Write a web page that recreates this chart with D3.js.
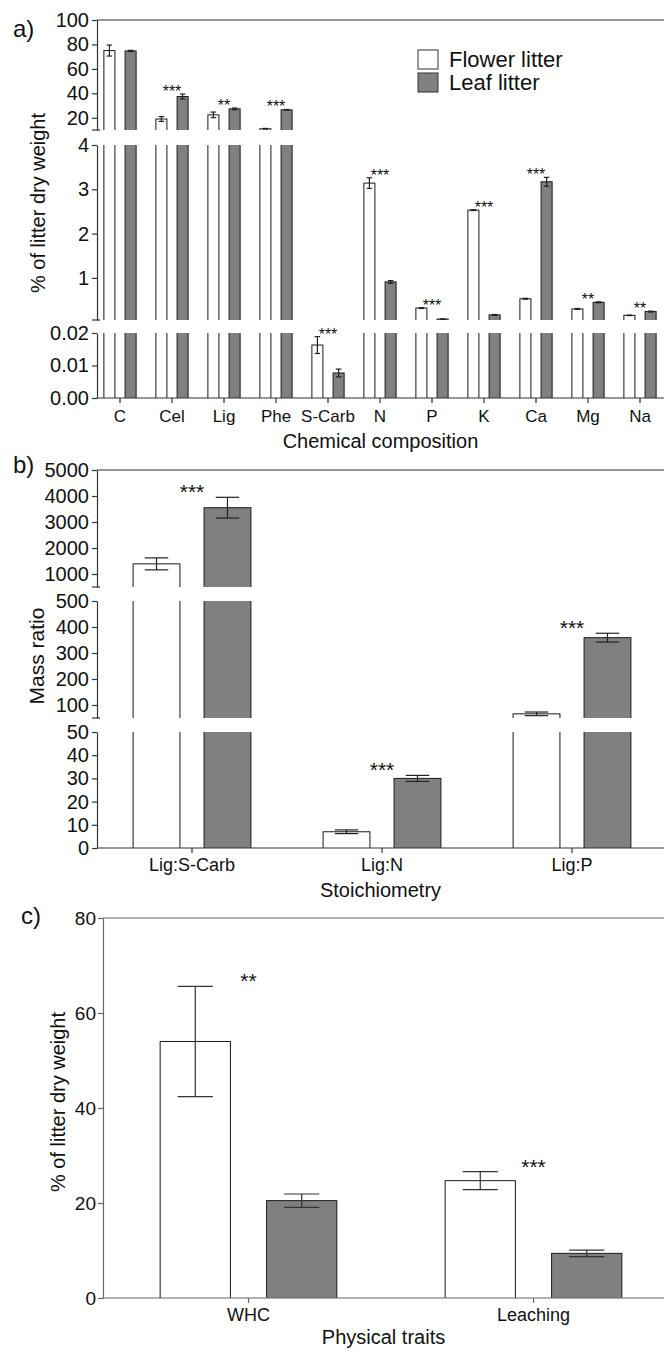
<!DOCTYPE html>
<html>
<head>
<meta charset="utf-8">
<script src="https://cdn.jsdelivr.net/npm/d3@7"></script>
<style>
  body { margin: 0; background: #fff; }
  svg { display: block; font-family: 'Liberation Sans', Arial, sans-serif; }
</style>
</head>
<body>
<svg id="fig" width="664" height="1352"></svg>
<script>
// a) chemical composition (% of litter dry weight)
const chemCats = ['C', 'Cel', 'Lig', 'Phe', 'S-Carb', 'N', 'P', 'K', 'Ca', 'Mg', 'Na'];
const chemFlower = [75, 19, 22.4, 11, 0.0163, 3.14, 0.32, 2.53, 0.53, 0.30, 0.155];
const chemFlowerErr = [4.5, 2, 2.3, 0.3, 0.0026, 0.12, 0.01, 0.01, 0.01, 0.01, 0.005];
const chemLeaf = [74.7, 37.4, 27.3, 26.5, 0.0077, 0.91, 0.07, 0.165, 3.17, 0.45, 0.24];
const chemLeafErr = [0.5, 2, 0.7, 0.3, 0.0012, 0.03, 0.005, 0.01, 0.1, 0.01, 0.01];
const chemSig = ['', '***', '**', '***', '***', '***', '***', '***', '***', '**', '**'];

// b) stoichiometry (mass ratio)
const stoCats = ['Lig:S-Carb', 'Lig:N', 'Lig:P'];
const stoFlower = [1390, 7, 66];
const stoFlowerErr = [230, 0.8, 7];
const stoLeaf = [3550, 30, 359];
const stoLeafErr = [400, 1.3, 17];
const stoSig = ['***', '***', '***'];

// c) physical traits
const physCats = ['WHC', 'Leaching'];
const physFlower = [54, 24.7];
const physFlowerErr = [11.6, 1.9];
const physLeaf = [20.5, 9.4];
const physLeafErr = [1.4, 0.7];
const physSig = ['**', '***'];

const series = ['Flower litter', 'Leaf litter'];
const fills = { 'Flower litter': '#ffffff', 'Leaf litter': '#808080' };
const RIGHT = 664;

const svg = d3.select('#fig');

function drawPanel(p) {
  const g = svg.append('g');
  const x0 = d3.scaleBand().domain(p.cats).range(p.xRange);
  const bw = x0.bandwidth();
  const x1 = d3.scaleBand().domain(series)
    .range([bw * 0.19, bw * 0.81])
    .paddingInner(p.barGap);

  const rows = p.cats.map((c, i) => ({
    cat: c,
    sig: p.sig[i],
    vals: [
      { s: series[0], v: p.flower[i], e: p.flowerErr[i], cat: c },
      { s: series[1], v: p.leaf[i], e: p.leafErr[i], cat: c }
    ]
  }));
  const bars = rows.flatMap(r => r.vals);
  const scales = p.segs.map(s => d3.scaleLinear().domain(s.domain).range(s.range));
  const segOf = v => p.segs.findIndex(s => v >= s.domain[0] && v <= s.domain[1]);

  p.segs.forEach((s, k) => {
    const y = scales[k];
    const id = `clip-${p.id}-${k}`;
    g.append('clipPath').attr('id', id).append('rect')
      .attr('x', 0).attr('width', RIGHT)
      .attr('y', s.range[1]).attr('height', s.range[0] - s.range[1]);

    const layer = g.append('g').attr('clip-path', `url(#${id})`);
    const lo = s.range[0] + 6, hi = s.range[1] - 6;
    const top = d => (d.v > s.domain[1] ? hi : y(d.v));

    layer.selectAll('rect')
      .data(bars.filter(d => d.v > s.domain[0]))
      .join('rect')
      .attr('x', d => x0(d.cat) + x1(d.s))
      .attr('width', x1.bandwidth())
      .attr('y', top)
      .attr('height', d => lo - top(d))
      .attr('fill', d => fills[d.s])
      .attr('stroke', '#1a1a1a')
      .attr('stroke-width', 1);

    // error bars, drawn in the segment holding the mean
    const cap = x1.bandwidth() * 0.25;
    const eb = layer.selectAll('g.err')
      .data(bars.filter(d => segOf(d.v) === k && d.e > 0))
      .join('g').attr('class', 'err')
      .attr('stroke', p.errColor).attr('stroke-width', 1.2);
    const cx = d => x0(d.cat) + x1(d.s) + x1.bandwidth() / 2;
    eb.append('line')
      .attr('x1', cx).attr('x2', cx)
      .attr('y1', d => y(d.v - d.e)).attr('y2', d => y(d.v + d.e));
    eb.append('line')
      .attr('x1', d => cx(d) - cap).attr('x2', d => cx(d) + cap)
      .attr('y1', d => y(d.v + d.e)).attr('y2', d => y(d.v + d.e));
    eb.append('line')
      .attr('x1', d => cx(d) - cap).attr('x2', d => cx(d) + cap)
      .attr('y1', d => y(d.v - d.e)).attr('y2', d => y(d.v - d.e));

    // y axis segment
    const ax = g.append('g')
      .attr('transform', `translate(${p.axisX},0)`)
      .call(d3.axisLeft(y).tickValues(s.ticks).tickFormat(d3.format(s.fmt))
        .tickSize(5).tickPadding(p.tickPad).tickSizeOuter(0));
    ax.selectAll('path, line').attr('stroke', p.axisColor).attr('stroke-width', 1.2);
    ax.selectAll('text').attr('font-size', p.tickFont).attr('fill', '#111')
      .attr('font-family', 'Liberation Sans, Arial, sans-serif');

    // break mark at the foot of the upper segments
    if (k > 0) {
      g.append('line')
        .attr('x1', p.axisX - 5).attr('x2', p.axisX + 3)
        .attr('y1', s.range[0]).attr('y2', s.range[0])
        .attr('stroke', p.axisColor).attr('stroke-width', 1.2);
    }
  });

  // top frame line
  const topSeg = p.segs[p.segs.length - 1];
  g.append('line')
    .attr('x1', p.axisX).attr('x2', RIGHT)
    .attr('y1', topSeg.range[1]).attr('y2', topSeg.range[1])
    .attr('stroke', p.axisColor).attr('stroke-width', 1.2);

  // x axis
  const baseY = p.segs[0].range[0];
  const xa = g.append('g')
    .attr('transform', `translate(0,${baseY})`)
    .call(d3.axisBottom(x0).tickSize(5).tickSizeOuter(0));
  xa.select('.domain').remove();
  xa.selectAll('line').attr('stroke', p.axisColor).attr('stroke-width', 1.2);
  xa.selectAll('text')
    .attr('dy', null).attr('y', p.catOffset)
    .attr('font-size', p.catFont).attr('fill', '#111')
    .attr('font-family', 'Liberation Sans, Arial, sans-serif');
  g.append('line')
    .attr('x1', p.axisX).attr('x2', RIGHT)
    .attr('y1', baseY).attr('y2', baseY)
    .attr('stroke', p.axisColor).attr('stroke-width', 1.2);

  // significance stars
  const pix = v => {
    const k = segOf(v);
    return k >= 0 ? scales[k](v) : scales[scales.length - 1](v);
  };
  g.selectAll('text.sig')
    .data(rows.filter(r => r.sig))
    .join('text').attr('class', 'sig')
    .attr('x', r => x0(r.cat) + bw / 2)
    .attr('y', r => d3.min(r.vals, d => pix(d.v + d.e)) + p.starDrop)
    .attr('text-anchor', 'middle')
    .attr('font-size', p.starFont)
    .attr('fill', '#111')
    .text(r => r.sig);

  // titles
  g.append('text')
    .attr('x', (p.axisX + RIGHT) / 2).attr('y', p.xTitleY)
    .attr('text-anchor', 'middle').attr('font-size', 20).attr('fill', '#111')
    .text(p.xTitle);
  g.append('text')
    .attr('transform', `translate(${p.yTitleX},${p.yTitleY}) rotate(-90)`)
    .attr('text-anchor', 'middle').attr('font-size', p.yTitleFont).attr('fill', '#111')
    .text(p.yTitle);
  g.append('text')
    .attr('x', p.tagX).attr('y', p.tagY)
    .attr('font-size', 24).attr('fill', '#111')
    .text(p.tag);
}

drawPanel({
  id: 'a', tag: 'a)', tagX: 13, tagY: 37,
  cats: chemCats, flower: chemFlower, flowerErr: chemFlowerErr,
  leaf: chemLeaf, leafErr: chemLeafErr, sig: chemSig,
  xRange: [94, 666], barGap: 0.48, axisX: 97,
  segs: [
    { domain: [0, 0.02], range: [398, 333], ticks: [0, 0.01, 0.02], fmt: '.2f' },
    { domain: [0.05, 4], range: [320, 145], ticks: [1, 2, 3, 4], fmt: 'd' },
    { domain: [10, 100], range: [130, 20], ticks: [20, 40, 60, 80, 100], fmt: 'd' }
  ],
  axisColor: '#333', errColor: '#222', tickFont: 20, tickPad: 3,
  catFont: 17, catOffset: 24, starFont: 16, starDrop: 3,
  xTitle: 'Chemical composition', xTitleY: 448,
  yTitle: '% of litter dry weight', yTitleX: 45, yTitleY: 203, yTitleFont: 20
});

drawPanel({
  id: 'b', tag: 'b)', tagX: 13, tagY: 473,
  cats: stoCats, flower: stoFlower, flowerErr: stoFlowerErr,
  leaf: stoLeaf, leafErr: stoLeafErr, sig: stoSig,
  xRange: [97, 667], barGap: 0.34, axisX: 97,
  segs: [
    { domain: [0, 50], range: [848, 732], ticks: [0, 10, 20, 30, 40, 50], fmt: 'd' },
    { domain: [50, 500], range: [718, 601], ticks: [100, 200, 300, 400, 500], fmt: 'd' },
    { domain: [500, 5000], range: [587, 470], ticks: [1000, 2000, 3000, 4000, 5000], fmt: 'd' }
  ],
  axisColor: '#333', errColor: '#222', tickFont: 20, tickPad: 3,
  catFont: 18, catOffset: 23, starFont: 21, starDrop: 2,
  xTitle: 'Stoichiometry', xTitleY: 897,
  yTitle: 'Mass ratio', yTitleX: 44, yTitleY: 656, yTitleFont: 21
});

drawPanel({
  id: 'c', tag: 'c)', tagX: 21, tagY: 924,
  cats: physCats, flower: physFlower, flowerErr: physFlowerErr,
  leaf: physLeaf, leafErr: physLeafErr, sig: physSig,
  xRange: [106, 676], barGap: 0.34, axisX: 103,
  segs: [
    { domain: [0, 80], range: [1298, 918], ticks: [0, 20, 40, 60, 80], fmt: 'd' }
  ],
  axisColor: '#666', errColor: '#333', tickFont: 19, tickPad: 2,
  catFont: 18, catOffset: 23, starFont: 21, starDrop: 2,
  xTitle: 'Physical traits', xTitleY: 1344,
  yTitle: '% of litter dry weight', yTitleX: 65, yTitleY: 1102, yTitleFont: 20
});

// legend
const legend = svg.append('g').attr('transform', 'translate(418,50)');
const li = legend.selectAll('g').data(series).join('g')
  .attr('transform', (d, i) => `translate(0,${i * 23})`);
li.append('rect')
  .attr('width', 20).attr('height', 19)
  .attr('fill', d => fills[d]).attr('stroke', '#333').attr('stroke-width', 1);
li.append('text')
  .attr('x', 31).attr('y', 17)
  .attr('font-size', 22).attr('fill', '#111')
  .text(d => d);
</script>
</body>
</html>
